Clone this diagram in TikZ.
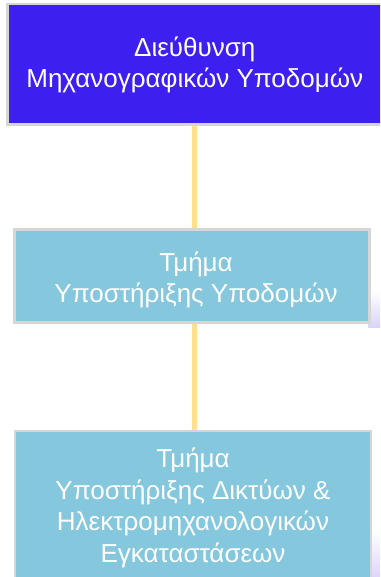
\documentclass[tikz,border=0pt]{standalone}
\usepackage{fontspec}
\setmainfont{Liberation Sans}
\usetikzlibrary{shadings}
\definecolor{topblue}{HTML}{3D1FEF}
\definecolor{lightbox}{HTML}{85C8DD}
\definecolor{boxedge}{HTML}{D6D6D6}
\definecolor{linkyellow}{HTML}{FFE08C}
\definecolor{lavender}{HTML}{DCD3FA}
\tikzset{
  unitbox/.style={rectangle, draw=boxedge, line width=2.5pt, inner sep=0pt},
  unittext/.style={text=white, align=center, font=\fontsize{26}{31.5}\selectfont, inner sep=0pt},
  link/.style={draw=linkyellow, line width=5pt}
}
\begin{document}
\begin{tikzpicture}[x=1pt,y=1pt]
\useasboundingbox (0,0) rectangle (380,-577);
\clip (0,0) rectangle (380,-577);
\fill[white] (0,0) rectangle (380,-577);
% soft lavender shadows
\shade[top color=white, bottom color=lavender] (368,-290) rectangle (380,-327);
\shade[top color=white, bottom color=lavender] (368,-530) rectangle (380,-580);
\node[unitbox, fill=topblue, minimum width=374.5pt, minimum height=120.5pt] (b1) at (194.75,-64.25) {};
\node[unittext] (t1) at ([yshift=-0.5pt]b1.center) {Διεύθυνση\\Μηχανογραφικών Υποδομών};
\node[unitbox, fill=lightbox, minimum width=355pt, minimum height=93pt] (b2) at (192,-276) {};
\node[unittext] (t2) at ([xshift=4pt,yshift=-4pt]b2.center) {Τμήμα\\Υποστήριξης Υποδομών};
\node[unitbox, fill=lightbox, minimum width=356pt, minimum height=149pt] (b3) at (193,-505.5) {};
\node[unittext] (t3) at ([yshift=-2.5pt]b3.center) {Τμήμα\\Υποστήριξης Δικτύων \&\\Ηλεκτρομηχανολογικών\\Εγκαταστάσεων};
\draw[link] (b1.south) -- (b1.south |- b2.north);
\draw[link] (b1.south |- b2.south) -- (b1.south |- b3.north);
\end{tikzpicture}
\end{document}
